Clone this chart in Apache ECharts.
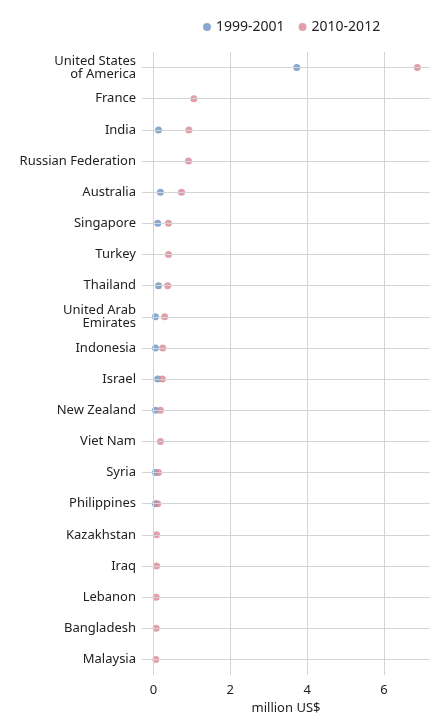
<!DOCTYPE html>
<html>
<head>
<meta charset="utf-8">
<script src="https://cdn.jsdelivr.net/npm/echarts@6/dist/echarts.min.js"></script>
<style>html,body{margin:0;padding:0;background:#fff}#chart{width:432px;height:720px}</style>
</head>
<body>
<div id="chart"></div>
<script>
const chart = echarts.init(document.getElementById('chart'));

const names = ["United States\nof America", "France", "India", "Russian Federation", "Australia",
  "Singapore", "Turkey", "Thailand", "United Arab\nEmirates", "Indonesia", "Israel", "New Zealand",
  "Viet Nam", "Syria", "Philippines", "Kazakhstan", "Iraq", "Lebanon", "Bangladesh", "Malaysia"];

const early = [3.73, null, 0.13, null, 0.18, 0.11, null, 0.13, 0.05, 0.05, 0.11, 0.05,
  null, 0.05, 0.05, null, null, null, null, null];

const late = [6.87, 1.05, 0.92, 0.91, 0.73, 0.39, 0.39, 0.37, 0.29, 0.24, 0.23, 0.18,
  0.18, 0.13, 0.11, 0.08, 0.08, 0.07, 0.07, 0.06];

const xTicks = [0, 2, 4, 6];

const gridColor = '#d4d4d4';
const font = 'Noto Sans';

const option = {
  animation: false,
  legend: {
    top: 15,
    left: 198,
    itemWidth: 8,
    itemHeight: 8,
    itemGap: 14,
    textStyle: { fontFamily: font, fontSize: 14, color: '#222' },
    data: [{ name: '1999-2001', icon: 'circle' }, { name: '2010-2012', icon: 'circle' }]
  },
  grid: { left: 142, right: 2, top: 52, bottom: 40 },
  xAxis: {
    type: 'value',
    min: -0.3,
    max: 7.2,
    name: 'million US$',
    nameLocation: 'middle',
    nameGap: 27,
    nameTextStyle: { fontFamily: font, fontSize: 13, color: '#222' },
    axisLine: { show: false },
    axisTick: { show: false },
    splitLine: { show: false },
    axisLabel: { customValues: xTicks, fontFamily: font, fontSize: 13, color: '#222', margin: 9 }
  },
  yAxis: {
    type: 'category',
    data: names,
    inverse: true,
    axisLine: { show: false },
    axisTick: { show: false },
    splitLine: { show: false },
    axisLabel: { fontFamily: font, fontSize: 13, color: '#222', margin: 6, lineHeight: 13 }
  },
  series: [
    {
      name: 'grid',
      type: 'scatter',
      data: [],
      z: 1,
      silent: true,
      markLine: {
        silent: true,
        symbol: 'none',
        label: { show: false },
        lineStyle: { color: gridColor, type: 'solid', width: 1 },
        data: xTicks.map(t => ({ xAxis: t })).concat(names.map(n => ({ yAxis: n })))
      }
    },
    {
      name: '1999-2001',
      type: 'scatter',
      symbolSize: 7,
      itemStyle: { color: '#6a93c0' },
      data: early.map((v, i) => [v, names[i]]),
      z: 3
    },
    {
      name: '2010-2012',
      type: 'scatter',
      symbolSize: 7,
      itemStyle: { color: '#d98797' },
      data: late.map((v, i) => [v, names[i]]),
      z: 4
    }
  ]
};

chart.setOption(option);
</script>
</body>
</html>
